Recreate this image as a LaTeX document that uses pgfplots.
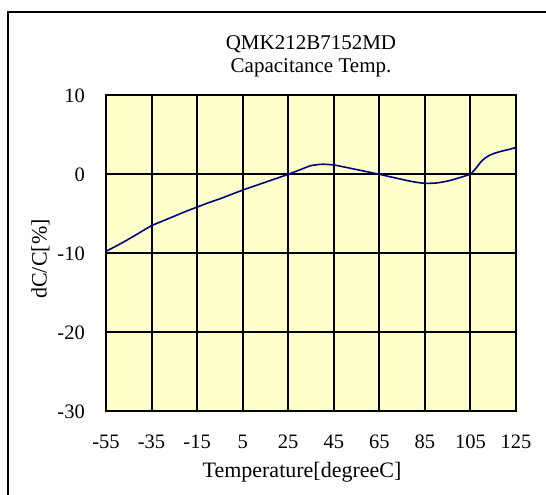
\documentclass[border=0pt]{standalone}
\usepackage{fontspec}
\setmainfont{Liberation Serif}
\usepackage{pgfplots}
\pgfplotsset{compat=1.18}
\definecolor{bgyellow}{RGB}{255,255,204}
\definecolor{curve}{RGB}{0,0,128}
\begin{document}
\begin{tikzpicture}[x=1pt,y=1pt]
\useasboundingbox (0,0) rectangle (546,495);
\draw[line width=1.5pt] (8,0) -- (8,483) -- (546,483);
\begin{axis}[
  at={(106pt,83.7pt)}, anchor=south west,
  width=410pt, height=316pt, scale only axis,
  xmin=-55, xmax=125, ymin=-30, ymax=10,
  xtick={-55,-35,...,125}, ytick={-30,-20,...,10},
  /pgf/number format/assume math mode=true,
  font=\fontsize{22}{22}\selectfont,
  ticklabel style={font=\fontsize{20.5}{22}\selectfont},
  axis background/.style={fill=bgyellow},
  grid=major,
  major grid style={black, line width=1.9pt},
  axis line style={line width=2.2pt},
  tick style={draw=none},
  yticklabel style={anchor=east, inner sep=0pt, xshift=-21pt},
  xticklabel style={anchor=base, inner sep=0pt, yshift=-37pt},
  xlabel={Temperature[degreeC]},
  xlabel style={at={(axis description cs:0.478,-0.2089)}, anchor=base, inner sep=0pt},
  ylabel={dC/C[\%]},
  ylabel style={at={(axis description cs:-0.1446,0.482)}, anchor=base, inner sep=0pt},
  clip=false,
]
\addplot[curve, line width=1.6pt, smooth, tension=0.4] coordinates {
(-55,-9.75) (-50,-9.0) (-45,-8.2) (-40,-7.35) (-35,-6.5) (-30,-5.9) (-25,-5.3)
(-20,-4.7) (-15,-4.15) (-10,-3.6) (-5,-3.1) (0,-2.55) (5,-2.0) (10,-1.5)
(15,-1.0) (20,-0.5) (25,0.0) (30,0.55) (35,1.1) (40,1.27) (45,1.18) (50,0.9)
(55,0.6) (60,0.3) (65,0.0) (70,-0.33) (75,-0.65) (80,-0.95) (85,-1.14)
(90,-1.1) (95,-0.85) (100,-0.45) (105,0.05) (107.5,0.8) (110,1.7) (113,2.35)
(116,2.7) (119,2.95) (122,3.15) (125,3.4)
};
\node[anchor=base, inner sep=0pt, font=\fontsize{21}{22}\selectfont] at (axis description cs:0.5,1.1450) {QMK212B7152MD};
\node[anchor=base, inner sep=0pt, font=\fontsize{21}{22}\selectfont] at (axis description cs:0.5,1.0737) {Capacitance Temp.};
\end{axis}
\end{tikzpicture}
\end{document}
